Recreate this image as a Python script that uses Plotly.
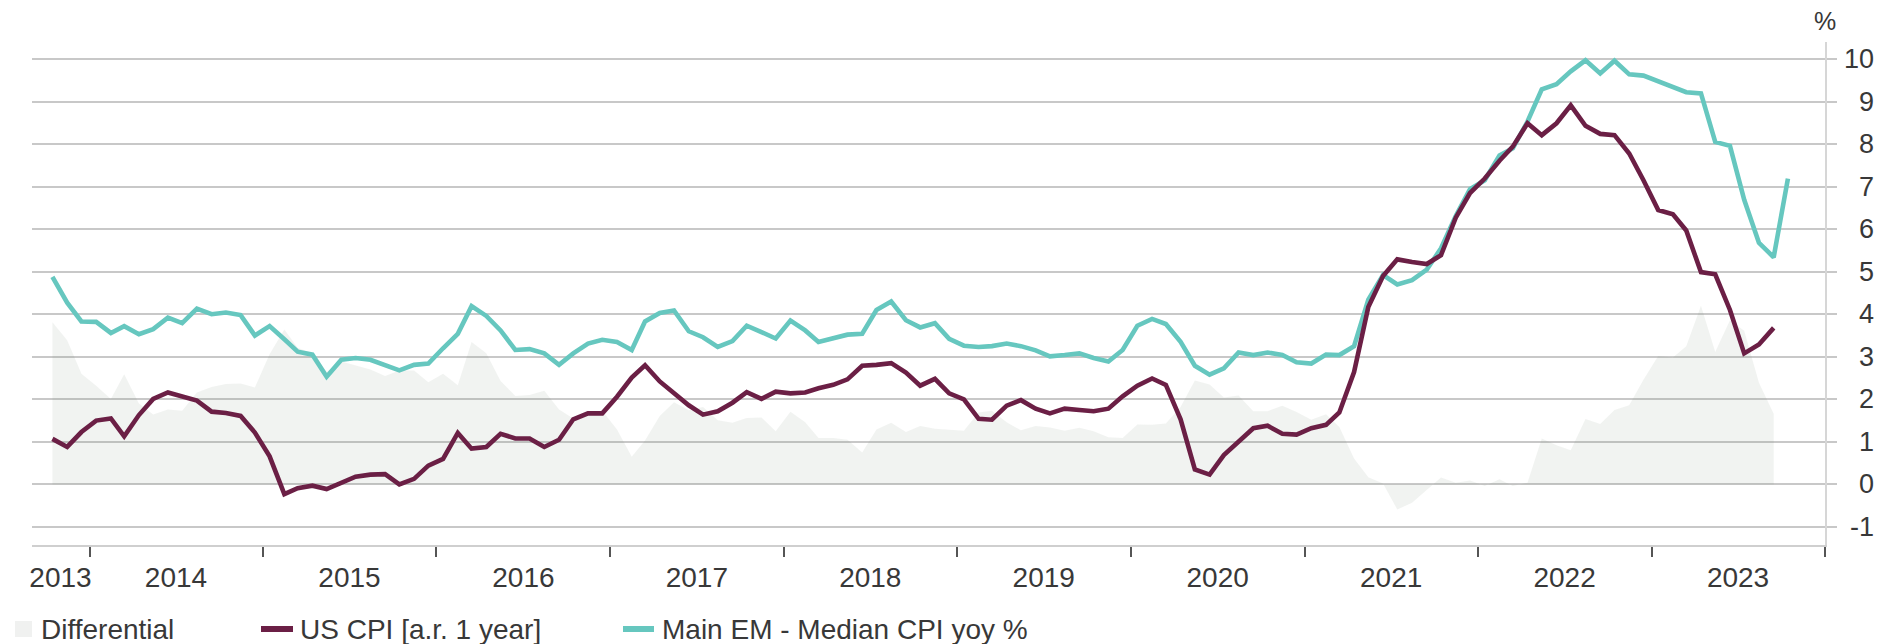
import plotly.graph_objects as go
import pandas as pd

# ---------------- data (monthly, Sep 2013 .. Sep 2023) ----------------
em_cpi = [4.88, 4.27, 3.83, 3.82, 3.56, 3.72, 3.53, 3.65, 3.92, 3.79,
          4.13, 4.00, 4.04, 3.98, 3.50, 3.72, 3.41, 3.12, 3.05, 2.53,
          2.93, 2.97, 2.93, 2.79, 2.68, 2.81, 2.84, 3.20, 3.54, 4.19,
          3.96, 3.62, 3.16, 3.18, 3.08, 2.81, 3.08, 3.31, 3.40, 3.35,
          3.16, 3.83, 4.03, 4.09, 3.60, 3.46, 3.23, 3.37, 3.73, 3.58,
          3.43, 3.85, 3.62, 3.35, 3.43, 3.52, 3.54, 4.10, 4.30, 3.86,
          3.69, 3.79, 3.42, 3.26, 3.23, 3.25, 3.31, 3.25, 3.15, 3.01,
          3.04, 3.08, 2.97, 2.89, 3.16, 3.73, 3.89, 3.77, 3.35, 2.79,
          2.58, 2.73, 3.10, 3.04, 3.10, 3.04, 2.87, 2.84, 3.05, 3.04,
          3.25, 4.34, 4.92, 4.70, 4.80, 5.05, 5.55, 6.31, 6.94, 7.15,
          7.73, 7.90, 8.53, 9.29, 9.41, 9.71, 9.97, 9.66, 9.96, 9.64,
          9.61, 9.47, 9.33, 9.22, 9.19, 8.05, 7.96, 6.69, 5.68, 5.34,
          7.19]

us_cpi = [1.07, 0.88, 1.23, 1.50, 1.55, 1.13, 1.63, 2.01, 2.16, 2.06,
          1.97, 1.71, 1.68, 1.61, 1.22, 0.66, -0.23, -0.09, -0.03, -0.11,
          0.04, 0.18, 0.23, 0.24, 0.00, 0.13, 0.44, 0.60, 1.21, 0.84,
          0.88, 1.19, 1.08, 1.08, 0.88, 1.05, 1.53, 1.67, 1.67, 2.06,
          2.51, 2.80, 2.42, 2.16, 1.86, 1.64, 1.72, 1.92, 2.17, 2.01,
          2.18, 2.14, 2.16, 2.26, 2.34, 2.47, 2.79, 2.81, 2.85, 2.63,
          2.32, 2.48, 2.14, 2.00, 1.54, 1.52, 1.85, 1.98, 1.78, 1.67,
          1.78, 1.75, 1.72, 1.78, 2.07, 2.32, 2.49, 2.34, 1.53, 0.35,
          0.23, 0.69, 1.01, 1.32, 1.38, 1.19, 1.17, 1.32, 1.40, 1.69,
          2.64, 4.17, 4.90, 5.29, 5.23, 5.18, 5.39, 6.27, 6.85, 7.19,
          7.61, 7.94, 8.49, 8.21, 8.49, 8.91, 8.43, 8.24, 8.21, 7.78,
          7.15, 6.45, 6.35, 5.97, 4.99, 4.94, 4.10, 3.08, 3.29, 3.68]

# differential = EM median CPI minus US CPI (same months)
differential = [round(e - u, 2) for e, u in zip(em_cpi, us_cpi)]

dates = pd.date_range("2013-09-15", periods=len(em_cpi), freq="MS") + pd.Timedelta(days=14)

year_labels = ["2013", "2014", "2015", "2016", "2017", "2018", "2019",
               "2020", "2021", "2022", "2023"]
year_label_pos = ["2013-11-01"] + [f"{y}-07-02" for y in range(2014, 2024)]
y_ticks = [-1, 0, 1, 2, 3, 4, 5, 6, 7, 8, 9, 10]

legend_names = ["Differential", "US CPI [a.r. 1 year]", "Main EM - Median CPI yoy %"]

# ---------------- style ----------------
FONT = "Liberation Sans, Arial, sans-serif"
TXT = "#383838"
C_EM = "#66C7BF"
C_US = "#6B1F45"
C_DIFF = "rgba(120,140,120,0.105)"
W, H = 1886, 644
L, R, T, B = 32, 61, 42, 99
PW = W - L - R
PH = H - T - B


def px_x(px):
    return (px - L) / PW


def px_y(py):
    return (H - B - py) / PH


fig = go.Figure()
fig.add_trace(go.Scatter(x=dates[:len(differential)], y=differential, mode="lines",
                         fill="tozeroy", fillcolor=C_DIFF, line=dict(width=0, color=C_DIFF),
                         name=legend_names[0], showlegend=False, hoverinfo="skip"))
fig.add_trace(go.Scatter(x=dates, y=em_cpi, mode="lines", line=dict(color=C_EM, width=4.6),
                         name=legend_names[2], showlegend=False))
fig.add_trace(go.Scatter(x=dates[:len(us_cpi)], y=us_cpi, mode="lines",
                         line=dict(color=C_US, width=4.6),
                         name=legend_names[1], showlegend=False))

fig.update_xaxes(type="date", range=["2013-09-02", "2024-01-01"],
                 tickmode="array", tickvals=year_label_pos, ticktext=year_labels,
                 ticks="", showgrid=False, zeroline=False, ticklabelstandoff=6,
                 showline=True, linecolor="#cfcfcf", linewidth=2,
                 tickfont=dict(family=FONT, size=28, color=TXT),
                 minor=dict(ticks="outside", ticklen=10, tickwidth=2, tickcolor="#555555",
                            dtick="M12", tick0="2014-01-01", showgrid=False))

fig.update_yaxes(side="right", range=[-1.425, 10.40], tickmode="array", tickvals=y_ticks,
                 showticklabels=False, ticks="outside", ticklen=10, tickwidth=1.5,
                 tickcolor="#c8c8c8", showgrid=True, gridcolor="#c8c8c8", gridwidth=1.5,
                 zeroline=False, showline=True, linecolor="#d6d6d6", linewidth=2)

annotations = []
for v in y_ticks:
    annotations.append(dict(xref="paper", yref="y", x=1, y=v, xanchor="right", yanchor="middle",
                            xshift=51, text=str(v), showarrow=False,
                            font=dict(family=FONT, size=27, color=TXT)))
annotations.append(dict(xref="paper", yref="paper", x=1, y=1, xanchor="center", yanchor="middle",
                        yshift=21, text="%", showarrow=False,
                        font=dict(family=FONT, size=25, color=TXT)))

# manual legend
leg_y = 629
shapes = [
    dict(type="rect", xref="paper", yref="paper", x0=px_x(15), x1=px_x(32),
         y0=px_y(637), y1=px_y(621), fillcolor="#F0F1F0", line=dict(width=0)),
    dict(type="rect", xref="paper", yref="paper", x0=px_x(261), x1=px_x(293),
         y0=px_y(632), y1=px_y(626), fillcolor=C_US, line=dict(width=0)),
    dict(type="rect", xref="paper", yref="paper", x0=px_x(623), x1=px_x(654),
         y0=px_y(632), y1=px_y(626), fillcolor=C_EM, line=dict(width=0)),
]
for name, xs in zip(legend_names, [39, 298, 660]):
    annotations.append(dict(xref="paper", yref="paper", x=px_x(xs), y=px_y(leg_y),
                            xanchor="left", yanchor="middle", text=name, showarrow=False,
                            font=dict(family=FONT, size=28, color=TXT)))

fig.update_layout(width=W, height=H, margin=dict(l=L, r=R, t=T, b=B, pad=0),
                  plot_bgcolor="white", paper_bgcolor="white", showlegend=False,
                  annotations=annotations, shapes=shapes,
                  font=dict(family=FONT, color=TXT))

fig.write_html("out.html", config={"displayModeBar": False},
               post_script="document.body.style.margin='0';document.body.style.overflow='hidden';")
